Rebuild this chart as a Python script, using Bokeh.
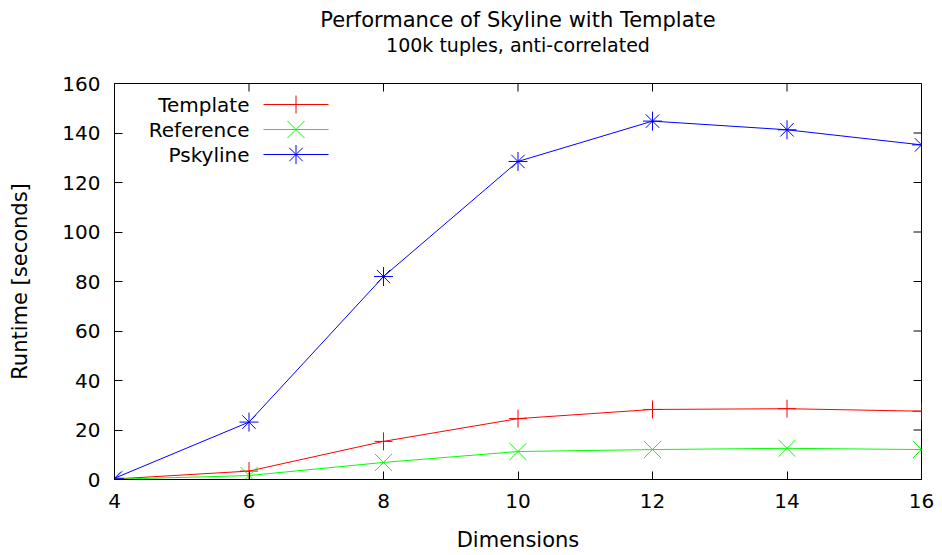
from bokeh.plotting import figure
from bokeh.models import Range1d, FixedTicker, Label, Title, LinearAxis
from bokeh.embed import file_html
from bokeh.resources import INLINE

dims = [4, 6, 8, 10, 12, 14, 16]
template = [0.2, 3.4, 15.4, 24.6, 28.3, 28.6, 27.6]
reference = [0.1, 1.6, 6.9, 11.3, 12.1, 12.6, 12.1]
pskyline = [0.5, 23.2, 82.0, 128.5, 144.8, 141.3, 135.2]
series_names = ["Template", "Reference", "Pskyline"]
x_ticks = [4, 6, 8, 10, 12, 14, 16]
y_ticks = [0, 20, 40, 60, 80, 100, 120, 140, 160]
title_text = "Performance of Skyline with Template"
subtitle_text = "100k tuples, anti-correlated"

FONT = "DejaVu Sans"
X0, X1, Y0, Y1 = 4, 16, 0, 160
W, H = 942, 555
BL, BR, BT, BB = 114, 21, 83, 76
px_x = (X1 - X0) / (W - BL - BR)   # data units per pixel
px_y = (Y1 - Y0) / (H - BT - BB)

p = figure(width=W, height=H, output_backend="svg", toolbar_location=None,
           x_range=Range1d(X0, X1), y_range=Range1d(Y0, Y1),
           min_border_left=BL, min_border_right=BR, min_border_top=BT, min_border_bottom=BB,
           title=None)
p.grid.visible = False
p.outline_line_color = "black"
p.outline_line_width = 1
p.background_fill_color = "white"
p.border_fill_color = "white"

for ax, ticks in ((p.xaxis[0], x_ticks), (p.yaxis[0], y_ticks)):
    ax.ticker = FixedTicker(ticks=ticks)
    ax.major_tick_in = 8
    ax.major_tick_out = 0
    ax.minor_tick_line_color = None
    ax.axis_line_color = "black"
    ax.major_tick_line_color = "black"
    ax.major_label_text_font = FONT
    ax.major_label_text_font_size = "20px"
    ax.major_label_text_color = "black"
    ax.axis_label_text_font = FONT
    ax.axis_label_text_font_size = "21px"
    ax.axis_label_text_font_style = "normal"
    ax.axis_label_text_color = "black"

p.xaxis[0].axis_label = "Dimensions"
p.yaxis[0].axis_label = "Runtime [seconds]"
p.xaxis[0].major_label_standoff = 14
p.xaxis[0].axis_label_standoff = 17
p.yaxis[0].major_label_standoff = 14
p.yaxis[0].axis_label_standoff = 27

# mirror ticks on top and right borders
tick_len = 8
p.segment(x0=x_ticks, y0=[Y1] * len(x_ticks), x1=x_ticks, y1=[Y1 - tick_len * px_y] * len(x_ticks),
          line_color="black", line_width=1)
p.segment(x0=[X1] * len(y_ticks), y0=y_ticks, x1=[X1 - tick_len * px_x] * len(y_ticks), y1=y_ticks,
          line_color="black", line_width=1)

# spacer between frame and titles: an invisible axis with one hidden tick
mid = (X0 + X1) / 2
spacer = LinearAxis(ticker=FixedTicker(ticks=[mid]), major_label_overrides={mid: ""},
                    major_tick_out=28, major_tick_in=0,
                    axis_line_color="white", axis_line_alpha=0,
                    major_tick_line_color="white", major_tick_line_alpha=0,
                    minor_tick_line_color=None, minor_tick_out=0,
                    major_label_standoff=0, axis_label_standoff=0)
p.add_layout(spacer, "above")
p.add_layout(Title(text=subtitle_text, align="center", text_font=FONT, text_color="black",
                   text_font_size="19px", text_font_style="normal", standoff=0), "above")
p.add_layout(Title(text=title_text, align="center", text_font=FONT, text_color="black",
                   text_font_size="21px", text_font_style="normal", standoff=0), "above")

colors = ["#ff0000", "#00ff00", "#0000ff"]
markers = ["cross", "x", "asterisk"]
sizes = [18, 24, 19]
series = [template, reference, pskyline]

# legend geometry (pixels from the frame's top-left)
leg_text_right = 135
leg_sample_x0, leg_sample_x1 = 149, 214
leg_row0, leg_row_step = 21, 25

for i, (name, ys, c, mk, sz) in enumerate(zip(series_names, series, colors, markers, sizes)):
    p.line(dims, ys, line_color=c, line_width=1)
    p.scatter(dims, ys, marker=mk, size=sz, line_color=c, line_width=1)
    ry = Y1 - (leg_row0 + i * leg_row_step) * px_y
    sx0 = X0 + leg_sample_x0 * px_x
    sx1 = X0 + leg_sample_x1 * px_x
    p.segment(x0=[sx0], y0=[ry], x1=[sx1], y1=[ry], line_color=c, line_width=1)
    p.scatter(x=[(sx0 + sx1) / 2], y=[ry], marker=mk, size=sz, line_color=c, line_width=1)
    p.add_layout(Label(x=X0 + leg_text_right * px_x, y=ry, text=name, text_align="right",
                       text_baseline="middle", text_font=FONT, text_font_size="20px",
                       text_color="black"))

open("out.html", "w").write(file_html(p, INLINE))
